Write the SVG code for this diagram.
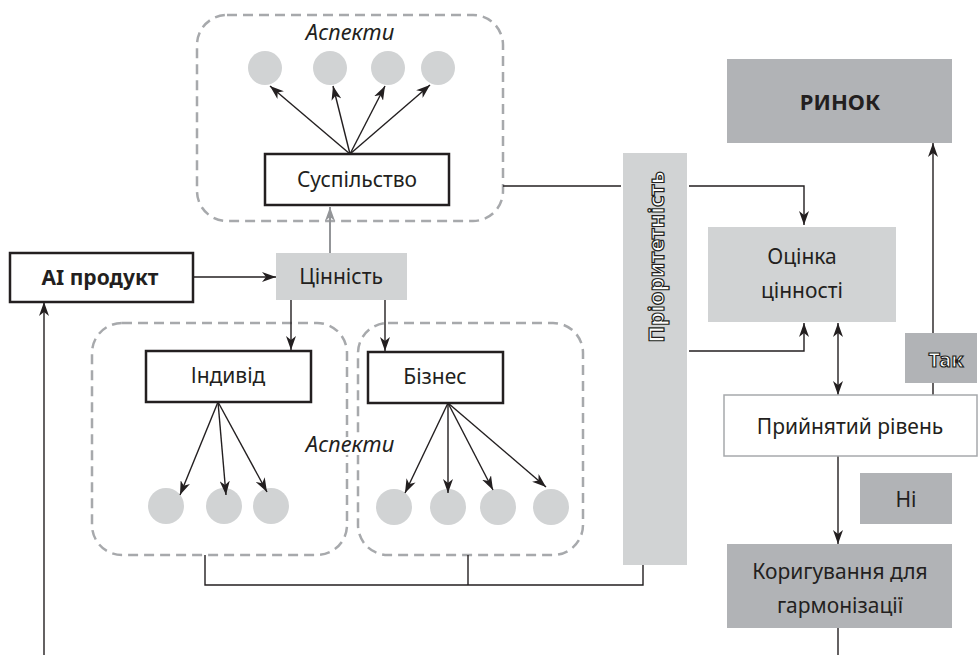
<svg xmlns="http://www.w3.org/2000/svg" width="980" height="655" viewBox="0 0 980 655">
<defs>
<marker id="ah" viewBox="0 0 14 10" refX="14" refY="5" markerWidth="14" markerHeight="10" orient="auto-start-reverse" markerUnits="userSpaceOnUse"><path d="M0,0 L14,5 L0,10 L4,5 z" fill="#231f20"/></marker>
<marker id="ahg" viewBox="0 0 14 10" refX="14" refY="5" markerWidth="14" markerHeight="10" orient="auto" markerUnits="userSpaceOnUse"><path d="M0,0 L14,5 L0,10 L4,5 z" fill="#939598"/></marker>
<style>
.t{font-family:"Noto Sans","Open Sans","Liberation Sans",sans-serif;font-size:21px;fill:#231f20;text-anchor:middle;dominant-baseline:central}
.b{font-weight:bold}
.i{font-style:italic;font-size:22px}
.o{fill:#fff;stroke:#231f20;stroke-width:1.2px;font-weight:bold}
.dash{fill:none;stroke:#a7a9ac;stroke-width:2.5;stroke-dasharray:10 6}
.wb{fill:#fff;stroke:#231f20;stroke-width:2.5}
.lg{fill:#d1d3d4}
.dg{fill:#b1b3b6}
.c{fill:#d1d3d4}
.ln{fill:none;stroke:#231f20;stroke-width:1.4}
.la{fill:none;stroke:#231f20;stroke-width:1.4;marker-end:url(#ah)}
</style>
</defs>
<rect width="980" height="655" fill="#fff"/>

<g id="cluster-society">
<rect class="dash" x="197" y="15" width="306" height="206" rx="30"/>
<text class="t i" x="350" y="31">Аспекти</text>
<circle class="c" cx="265" cy="68" r="17"/>
<circle class="c" cx="330" cy="68" r="17"/>
<circle class="c" cx="388" cy="68" r="17"/>
<circle class="c" cx="438" cy="68" r="17"/>
</g>
<g id="cluster-individual">
<rect class="dash" x="92" y="323" width="255" height="232" rx="30"/>
<circle class="c" cx="166" cy="506" r="18"/>
<circle class="c" cx="224" cy="506" r="18"/>
<circle class="c" cx="271" cy="506" r="18"/>
</g>
<g id="cluster-business">
<rect class="dash" x="358" y="323" width="225" height="232" rx="30"/>
<circle class="c" cx="394" cy="507" r="18"/>
<circle class="c" cx="448" cy="507" r="18"/>
<circle class="c" cx="498" cy="507" r="18"/>
<circle class="c" cx="551" cy="507" r="18"/>
</g>
<g id="aspects-label">
<text class="t i" x="350" y="443" style="stroke:#fff;stroke-width:6px;paint-order:stroke">Аспекти</text>
</g>

<g id="connectors">
<line class="la" x1="350" y1="154" x2="270" y2="86"/>
<line class="la" x1="350" y1="154" x2="333" y2="86"/>
<line class="la" x1="350" y1="154" x2="385" y2="86"/>
<line class="la" x1="350" y1="154" x2="430" y2="85"/>
<line x1="330" y1="253" x2="330" y2="207" stroke="#939598" stroke-width="2" marker-end="url(#ahg)"/>
<line class="la" x1="193" y1="277" x2="276" y2="277"/>
<line class="la" x1="291" y1="300" x2="291" y2="350"/>
<line class="la" x1="385" y1="300" x2="385" y2="351"/>
<line class="la" x1="218" y1="402" x2="180" y2="495"/>
<line class="la" x1="218" y1="402" x2="226" y2="495"/>
<line class="la" x1="218" y1="402" x2="267" y2="492"/>
<line class="la" x1="448" y1="403" x2="405" y2="493"/>
<line class="la" x1="448" y1="403" x2="448" y2="493"/>
<line class="la" x1="448" y1="403" x2="493" y2="490"/>
<line class="la" x1="448" y1="403" x2="546" y2="487"/>
<polyline class="ln" points="205,555 205,585 643,585 643,565"/>
<line class="ln" x1="468" y1="555" x2="468" y2="585"/>
<line class="ln" x1="503" y1="186" x2="621" y2="186"/>
<polyline class="la" points="689,186 804,186 804,225"/>
<polyline class="la" points="689,351 804,351 804,323"/>
<line class="la" x1="44" y1="655" x2="44" y2="302"/>
<line class="ln" x1="838" y1="628" x2="838" y2="655"/>
<line class="la" x1="838" y1="456" x2="838" y2="544"/>
<line class="ln" x1="838" y1="323" x2="838" y2="395" marker-start="url(#ah)" marker-end="url(#ah)"/>
<line class="la" x1="933" y1="333" x2="933" y2="143"/>
<line class="ln" x1="933" y1="383" x2="933" y2="395"/>
</g>

<g id="society"><rect class="wb" x="265" y="154" width="184" height="51"/><text class="t" x="357" y="179">Суспільство</text></g>
<g id="ai-product"><rect class="wb" x="10" y="253" width="183" height="49"/><text class="t b" x="100" y="277">AI продукт</text></g>
<g id="value"><rect class="lg" x="276" y="253" width="131" height="47"/><text class="t" x="341" y="276">Цінність</text></g>
<g id="individual"><rect class="wb" x="146" y="351" width="165" height="51"/><text class="t" x="228" y="375">Індивід</text></g>
<g id="business"><rect class="wb" x="368" y="352" width="135" height="51"/><text class="t" x="435" y="376">Бізнес</text></g>
<g id="priority"><rect class="lg" x="623" y="153" width="64" height="412"/><text class="t o" x="655" y="257" transform="rotate(-90 655 257)" style="font-size:22px">Пріоритетність</text></g>
<g id="assessment"><rect class="lg" x="708" y="227" width="188" height="95"/><text class="t" x="802" y="256">Оцінка</text><text class="t" x="802" y="290">цінності</text></g>
<g id="market"><rect class="dg" x="727" y="59" width="225" height="84"/><text class="t b" x="840" y="101" style="font-size:22px">РИНОК</text></g>
<g id="yes"><rect class="dg" x="905" y="333" width="72" height="50"/><text class="t o" x="946" y="359" style="font-size:20px">Так</text></g>
<g id="accepted"><rect x="724" y="395" width="253" height="61" fill="#fff" stroke="#a7a9ac" stroke-width="1.5"/><text class="t" x="850" y="426">Прийнятий рівень</text></g>
<g id="no"><rect class="dg" x="860" y="473" width="92" height="51"/><text class="t" x="906" y="499">Ні</text></g>
<g id="adjust"><rect class="dg" x="727" y="544" width="225" height="84"/><text class="t" x="840" y="571">Коригування для</text><text class="t" x="840" y="605">гармонізації</text></g>
</svg>
